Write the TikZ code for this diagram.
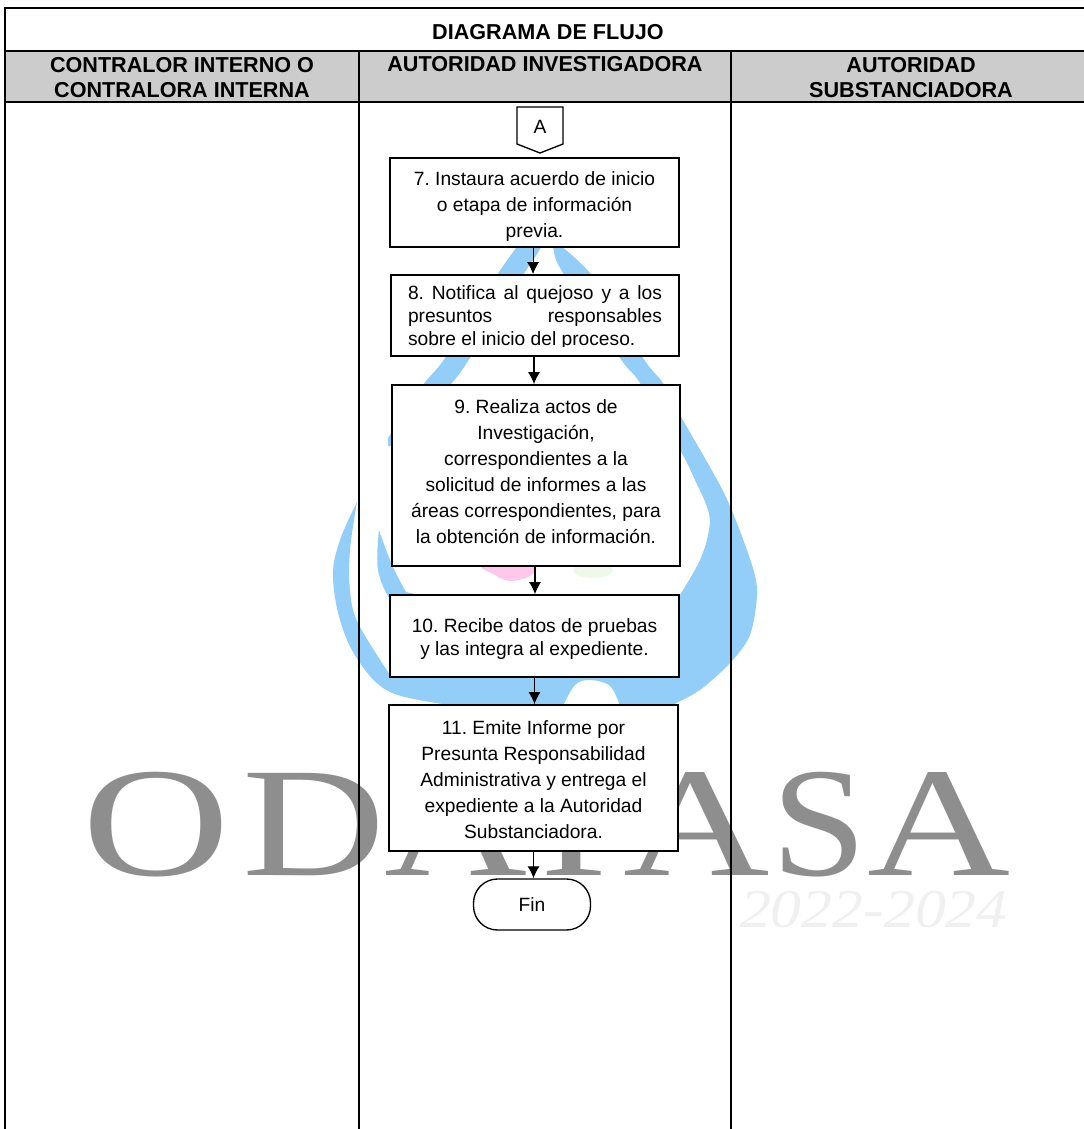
\documentclass[tikz,border=0pt]{standalone}
\usepackage{fontspec}
\usetikzlibrary{arrows.meta}
\setmainfont{Liberation Sans}
\newfontfamily\wmfont{Liberation Serif}
\newfontfamily\yrfont[FakeStretch=1.13]{Liberation Serif Italic}
\definecolor{dropblue}{HTML}{93CEF9}
\definecolor{wmgray}{HTML}{8E8E8E}
\definecolor{headgray}{HTML}{CCCCCC}
\frenchspacing
\newcommand{\bx}[2]{\raisebox{#1}[0pt][0pt]{\fontsize{14.4pt}{19.5pt}\selectfont\begin{tabular}{@{}c@{}}#2\end{tabular}}}
\newcommand{\by}[2]{\raisebox{#1}[0pt][0pt]{\fontsize{14.4pt}{17.25pt}\selectfont\begin{tabular}{@{}c@{}}#2\end{tabular}}}
\newcommand{\wl}[2]{\scalebox{#1}[1]{#2}}
\tikzset{
  x=0.75pt,y=-0.75pt,
  rule/.style={line width=1.5pt,black},
  procbox/.style={draw=black,fill=white,line width=1.3pt,inner sep=0pt},
  flow/.style={line width=0.8pt,-{Latex[length=9pt,width=9pt]}},
  headtxt/.style={inner sep=0pt,align=center,font=\fontsize{16.2pt}{18.7pt}\selectfont\bfseries},
  wm/.style={inner sep=0pt,anchor=base,text=wmgray,font=\fontsize{117pt}{117pt}\wmfont},
}
\begin{document}
\begin{tikzpicture}
\useasboundingbox (0,0) rectangle (1084,1129);
\fill[white] (0,0) rectangle (1084,1129);
% watermark drop
\fill[dropblue] plot[smooth,tension=.5] coordinates {(535,222)(497,275)(445,358)(423,385)(388,438)} -- (388,446) -- (392,446) -- plot[smooth,tension=.5] coordinates {(392,446)(450,385)(470,358)(523,275)(541,247)(545,225)} -- cycle;
\fill[dropblue] plot[smooth,tension=.5] coordinates {(530,222)(590,273)(643,358)(663,383)(680,415)(725,495)(752,565)(757,595)(750,635)(731,662)(700,690)(670,706)} -- (620,706) -- plot[smooth,tension=.6] coordinates {(620,706)(610,686)(590,680)(575,685)(563,706)} -- (450,706) -- plot[smooth,tension=.6] coordinates {(450,705)(390,692)(358,660)(340,620)(333,575)(340,540)(357,502)} -- plot[smooth,tension=.6] coordinates {(357,502)(350,550)(350,590)(358,623)(390,675)} -- (420,660) -- (650,640) -- plot[smooth,tension=.6] coordinates {(680,595)(700,560)(709,530)(708,510)(695,480)(680,450)(640,383)(620,358)(563,273)(553,247)(548,225)} -- cycle;
\fill[dropblue] plot[smooth,tension=.6] coordinates {(379,530)(378,570)(392,603)(420,640)} -- (440,600) -- plot[smooth,tension=.6] coordinates {(406,592)(392,565)(379,530)} -- cycle;
\fill[pink!70!magenta!45!white] plot[smooth cycle,tension=.6] coordinates {(483,566)(533,566)(530,576)(510,581)(495,575)};
\fill[yellow!20!green!8!white] (593,570) ellipse [x radius=20,y radius=8];
% watermark text
\node[wm] (wO) at (156.5,875) {\wl{1.31}{O}};
\node[wm] (wD) at (314,875) {\wl{1.27}{D}};
\node[wm] (wA) at (456,875) {\wl{1.27}{A}};
\node[wm] (wP) at (595,875) {\wl{1.25}{P}};
\node[wm] (wB) at (697,875) {\wl{1.3}{A}};
\node[wm] (wS) at (819,875) {\wl{1.1}{S}};
\node[wm] (wC) at (939.5,875) {\wl{1.27}{A}};
\node[inner sep=0pt,anchor=base east,text=black!6,font=\fontsize{41pt}{41pt}\yrfont] (wY) at (1008,927) {2022-2024};
% table
\fill[headgray] (5,51) rectangle (1084,102);
\draw[rule] (5,1129) -- (5,7.5) -- (1084,7.5);
\draw[rule] (5,51) -- (1084,51);
\draw[rule] (5,102) -- (1084,102);
\draw[rule] (358.5,51) -- (358.5,1129);
\draw[rule] (731,51) -- (731,1129);
% headers
\node[headtxt] (title) at (548,32) {DIAGRAMA DE FLUJO};
\node[headtxt] (h1) at (182,77.5) {CONTRALOR INTERNO O\\CONTRALORA INTERNA};
\node[headtxt] (h2) at (545,64) {AUTORIDAD INVESTIGADORA};
\node[headtxt] (h3) at (911,77.5) {AUTORIDAD\\SUBSTANCIADORA};
% connector off-page
\coordinate (a) at (540,130);
\draw[line width=1pt,fill=white] (517,107) -- (563,107) -- (563,144) -- (540,153) -- (517,144) -- cycle;
\node[inner sep=0pt,font=\fontsize{14.4pt}{16pt}\selectfont] (at) at (540,127) {A};
% process boxes
\node[procbox,minimum width=289*0.75pt,minimum height=89*0.75pt] (b7) at (534.5,202.5) {\bx{-6.45pt}{7. Instaura acuerdo de inicio\\o etapa de información\\previa.}};
\node[procbox,minimum width=288*0.75pt,minimum height=81*0.75pt] (b8) at (535,315.5) {};
\node[inner sep=0pt,align=left,font=\fontsize{14.4pt}{17.25pt}\selectfont] (t8) at (535,318) {\makebox[190.5pt][s]{8. Notifica al quejoso y a los}\\\makebox[190.5pt][s]{presuntos responsables}\\\makebox[190.5pt][l]{sobre el inicio del proceso.}};
\fill[white] (400,347) rectangle (670,354.5);
\node[procbox,minimum width=288*0.75pt,minimum height=181*0.75pt] (b9) at (536,475.5) {\bx{-1.85pt}{9. Realiza actos de\\Investigación,\\correspondientes a la\\solicitud de informes a las\\áreas correspondientes, para\\la obtención de información.}};
\node[procbox,minimum width=289*0.75pt,minimum height=82*0.75pt] (b10) at (534.5,636) {\by{-6.15pt}{10. Recibe datos de pruebas\\y las integra al expediente.}};
\node[procbox,minimum width=289*0.75pt,minimum height=146*0.75pt] (b11) at (533.5,778) {\bx{-6.4pt}{11. Emite Informe por\\Presunta Responsabilidad\\Administrativa y entrega el\\expediente a la Autoridad\\Substanciadora.}};
\node[draw=black,fill=white,line width=1pt,rounded corners=18pt,minimum width=117*0.75pt,minimum height=51*0.75pt,inner sep=0pt,font=\fontsize{14.4pt}{16pt}\selectfont] (fin) at (532,904.5) {Fin};
% connectors
\draw[flow] ([xshift=-1.1pt]b7.south) -- ([xshift=-1.1pt]b7.south |- b8.north);
\draw[flow] ([xshift=-0.75pt]b8.south) -- ([xshift=-0.75pt]b8.south |- b9.north);
\draw[flow] ([xshift=-0.75pt]b9.south) -- ([xshift=-0.75pt]b9.south |- b10.north);
\draw[flow] (b10.south) -- (b10.south |- b11.north);
\draw[flow] (b11.south) -- (b11.south |- fin.north);
\end{tikzpicture}
\end{document}
